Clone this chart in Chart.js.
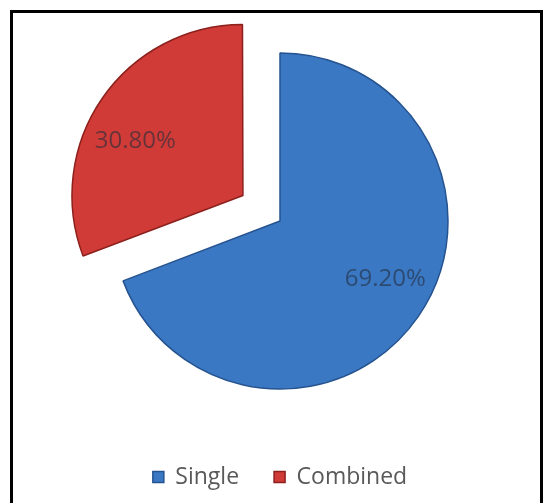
<!DOCTYPE html>
<html>
<head>
<meta charset="utf-8">
<script src="https://cdn.jsdelivr.net/npm/chart.js"></script>
<style>
  html, body { margin: 0; padding: 0; background: #fff; overflow: hidden; }
  .frame { position: absolute; left: 10px; top: 10px; width: 533px; height: 520px; border: 3px solid #000; box-sizing: border-box; }
  .chart-box { position: absolute; left: 0; top: 0; width: 553px; height: 503px; }
</style>
</head>
<body>
<div class="frame"></div>
<div class="chart-box"><canvas id="myChart"></canvas></div>
<script>

// data for pie chart

const labels = ['Single', 'Combined'];
const shares = [69.2, 30.8];
const sliceColors = ['#3b78c4', '#d03b37'];
const edgeColors = ['#25538f', '#8c201c'];


// percent text inside each slice

const percentLabels = {
  id: 'percentLabels',
  afterDatasetsDraw(chart) {
    const c = chart.ctx;
    const meta = chart.getDatasetMeta(0);
    c.save();
    c.font = '24px "Open Sans"';
    c.fillStyle = 'rgba(35, 45, 60, 0.6)';
    c.textAlign = 'center';
    c.textBaseline = 'middle';
    meta.data.forEach(function(arc, i) {
      // a little before the middle of the slice
      const mid = (arc.startAngle + arc.endAngle) / 2 - 0.1;
      // arc offset is drawn at a quarter of its value
      const dist = arc.outerRadius * 0.715 + (arc.options.offset || 0) / 4;
      c.fillText(shares[i].toFixed(2) + '%', arc.x + Math.cos(mid) * dist, arc.y + Math.sin(mid) * dist);
    });
    c.restore();
  }
};


// script for pie chart start

const ctx = document.getElementById('myChart');

new Chart(ctx, {
  type: 'pie',
  data: {
    labels: labels,
    datasets: [{
      data: shares,
      backgroundColor: sliceColors,
      borderColor: edgeColors,
      borderWidth: 1.5,
      offset: [0, 180],
      hoverOffset: 0,
      radius: 168
    }]
  },
  options: {
    responsive: true,
    maintainAspectRatio: false,
    animation: false,
    layout: {
      padding: { top: 11.5, left: 50, right: 43, bottom: 4.5 }
    },
    plugins: {
      tooltip: { enabled: false },
      legend: {
        position: 'bottom',
        labels: {
          boxWidth: 11,
          boxHeight: 11,
          padding: 35,
          color: '#595959',
          font: { family: '"Open Sans"', size: 23 }
        }
      }
    }
  },
  plugins: [percentLabels]
});

// script for pie chart end

</script>
</body>
</html>
